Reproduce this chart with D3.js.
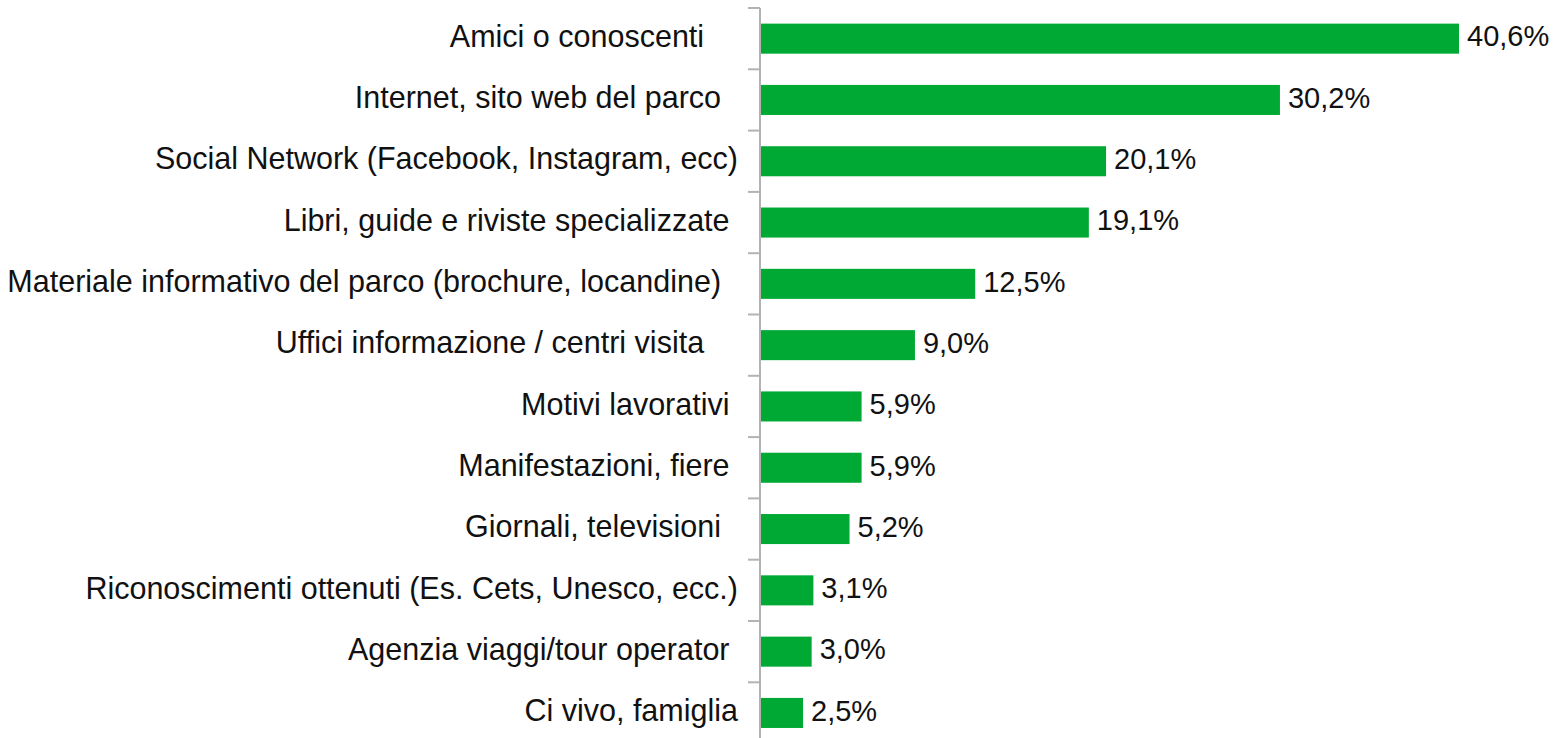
<!DOCTYPE html>
<head>
  <meta charset="utf-8">
  <script src="https://d3js.org/d3.v7.min.js"></script>
  <style>
body { margin:0; background:#fff; }
text {
	font-family: "Liberation Sans", Arial, sans-serif;
	fill: #111;
	white-space: pre;
}
.label { font-size: 30.5px; }
.value { font-size: 29px; }
.bar { fill: #00a933; }
.axis line, .axis path { stroke: #b3b3b3; stroke-width: 2; }
  </style>
</head>
<body>
  <script>
const categories = [
	'Amici o conoscenti    ',
	'Internet, sito web del parco  ',
	'Social Network (Facebook, Instagram, ecc)',
	'Libri, guide e riviste specializzate ',
	'Materiale informativo del parco (brochure, locandine)  ',
	'Uffici informazione / centri visita    ',
	'Motivi lavorativi ',
	'Manifestazioni, fiere ',
	'Giornali, televisioni  ',
	'Riconoscimenti ottenuti (Es. Cets, Unesco, ecc.)',
	'Agenzia viaggi/tour operator ',
	'Ci vivo, famiglia'
]
const values = [40.6, 30.2, 20.1, 19.1, 12.5, 9.0, 5.9, 5.9, 5.2, 3.1, 3.0, 2.5]

const fullWidth = 1553
const fullHeight = 738
const axisX = 760

const svg = d3.select('body')
	.append('svg')
	.attr('width', fullWidth)
	.attr('height', fullHeight)

const x = d3.scaleLinear()
	.domain([0, 40.6])
	.range([axisX, 1459])

const y = d3.scaleBand()
	.domain(categories)
	.range([8, 8 + 61.3 * categories.length])
	.paddingInner(0.51)
	.paddingOuter(0.255)

// band boundaries for the tick marks
const bounds = d3.range(categories.length + 1).map(i => 8 + i * y.step())

const axis = svg.append('g').attr('class', 'axis')
axis.append('path')
	.attr('d', `M${axisX},${bounds[0]}V${bounds[bounds.length - 1]}`)
axis.selectAll('line')
	.data(bounds)
	.enter().append('line')
	.attr('x1', axisX - 12)
	.attr('x2', axisX)
	.attr('y1', d => d)
	.attr('y2', d => d)

svg.selectAll('.bar')
	.data(values)
	.enter().append('rect')
	.attr('class', 'bar')
	.attr('x', x(0) + 1)
	.attr('y', (d, i) => y(categories[i]))
	.attr('width', d => x(d) - x(0) - 1)
	.attr('height', y.bandwidth())

svg.selectAll('.label')
	.data(categories)
	.enter().append('text')
	.attr('class', 'label')
	.attr('x', axisX - 22)
	.attr('y', d => y(d) + y.bandwidth() / 2)
	.attr('dy', '0.27em')
	.attr('text-anchor', 'end')
	.text(d => d)

svg.selectAll('.value')
	.data(values)
	.enter().append('text')
	.attr('class', 'value')
	.attr('x', d => x(d) + 8)
	.attr('y', (d, i) => y(categories[i]) + y.bandwidth() / 2)
	.attr('dy', '0.27em')
	.text(d => d.toFixed(1).replace('.', ',') + '%')
  </script>
</body>
